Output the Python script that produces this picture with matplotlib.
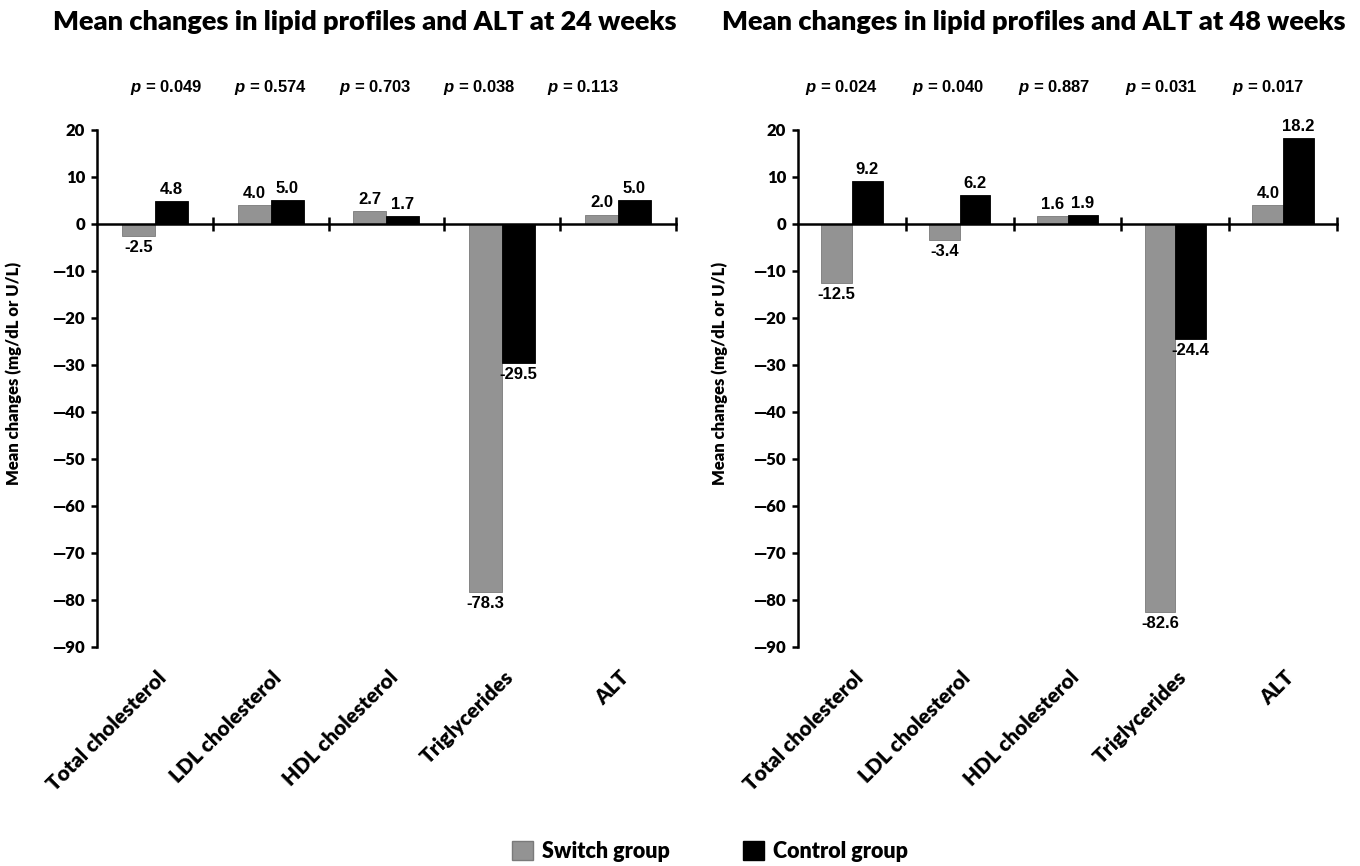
import matplotlib
matplotlib.use('Agg')
import matplotlib.pyplot as plt
from matplotlib.patches import Patch
import numpy as np

# data
categories = ['Total cholesterol', 'LDL cholesterol', 'HDL cholesterol', 'Triglycerides', 'ALT']
switch_24 = [-2.5, 4.0, 2.7, -78.3, 2.0]
control_24 = [4.8, 5.0, 1.7, -29.5, 5.0]
pvals_24 = ['0.049', '0.574', '0.703', '0.038', '0.113']
switch_48 = [-12.5, -3.4, 1.6, -82.6, 4.0]
control_48 = [9.2, 6.2, 1.9, -24.4, 18.2]
pvals_48 = ['0.024', '0.040', '0.887', '0.031', '0.017']
yticks = [20, 10, 0, -10, -20, -30, -40, -50, -60, -70, -80, -90]

GRAY = '#939393'
LABEL_FONT = 'Lato'
NUM_FONT = 'Liberation Sans'
W = 'heavy'

plt.rcParams['mathtext.fontset'] = 'custom'
plt.rcParams['mathtext.it'] = 'Liberation Sans:bold:italic'
plt.rcParams['mathtext.rm'] = 'Liberation Sans:bold'

fig = plt.figure(figsize=(13.6, 8.66), dpi=100)
ax1 = fig.add_axes([0.0713, 0.2529, 0.4257, 0.5970])
ax2 = fig.add_axes([0.5868, 0.2529, 0.3963, 0.5970])


def draw_panel(ax, switch, control, pvals, p_step, p_shift):
    x = np.arange(len(categories))
    w = 0.285
    b1 = ax.bar(x - w / 2, switch, w, color=GRAY, edgecolor='#7a7a7a', linewidth=0.6)
    b2 = ax.bar(x + w / 2, control, w, color='black', edgecolor='black', linewidth=0.6)

    # value labels
    for bars, vals in ((b1, switch), (b2, control)):
        for bar, v in zip(bars, vals):
            cx = bar.get_x() + bar.get_width() / 2
            if v >= 0:
                ax.annotate(f'{v:.1f}', (cx, v), xytext=(0, 3), textcoords='offset points',
                            ha='center', va='bottom', fontsize=12, fontweight='bold',
                            family=NUM_FONT)
            else:
                ax.annotate(f'{v:.1f}', (cx, v), xytext=(0, -3), textcoords='offset points',
                            ha='center', va='top', fontsize=12, fontweight='bold',
                            family=NUM_FONT)

    # p values above the plot (spread a bit differently from the categories)
    for i, p in enumerate(pvals):
        ax.text(i * p_step + p_shift, 1.083, r'$p$ = ' + p, transform=ax.get_xaxis_transform(),
                ha='center', va='center', fontsize=12, fontweight='bold', family=NUM_FONT)

    ax.set_xlim(-0.5, len(categories) - 0.5)
    ax.set_ylim(-90, 20)
    ax.set_yticks(yticks)
    ax.set_yticklabels([str(t).replace('-', '\u2014') for t in yticks],
                       fontsize=12, fontweight=W, family=LABEL_FONT)

    for s in ('top', 'right'):
        ax.spines[s].set_visible(False)
    ax.spines['left'].set_linewidth(1.8)
    ax.spines['bottom'].set_linewidth(1.8)
    ax.spines['bottom'].set_position(('data', 0))
    ax.set_xticks(np.arange(len(categories)) + 0.5)
    ax.set_xticklabels([])
    ax.tick_params(axis='x', direction='inout', length=10, width=1.8)
    ax.tick_params(axis='y', direction='out', length=4.5, width=1.8, pad=4)

    # category labels below the plot
    for i, c in enumerate(categories):
        ax.text(i + 0.01, -0.04, c, transform=ax.get_xaxis_transform(), rotation=45,
                ha='right', va='top', rotation_mode='anchor', fontsize=15,
                fontweight=W, family=LABEL_FONT)

    ax.set_ylabel('Mean changes (mg/dL or U/L)', fontsize=12, fontweight=W,
                  family=LABEL_FONT)
    ax.yaxis.set_label_coords(-0.13, 0.53)


draw_panel(ax1, switch_24, control_24, pvals_24, 0.9, 0.1)
draw_panel(ax2, switch_48, control_48, pvals_48, 0.99, -0.1)

fig.text(0.268, 0.975, 'Mean changes in lipid profiles and ALT at 24 weeks', ha='center',
         va='center', fontsize=19.5, fontweight=W, family=LABEL_FONT)
fig.text(0.760, 0.975, 'Mean changes in lipid profiles and ALT at 48 weeks', ha='center',
         va='center', fontsize=19.5, fontweight=W, family=LABEL_FONT)

handles = [Patch(facecolor=GRAY, edgecolor='#7a7a7a', label='Switch group'),
           Patch(facecolor='black', edgecolor='black', label='Control group')]
fig.legend(handles=handles, loc='center', bbox_to_anchor=(0.522, 0.017), ncol=2,
           frameon=False, prop={'family': LABEL_FONT, 'weight': W, 'size': 15.5},
           handlelength=1.0, handleheight=1.0, handletextpad=0.4, columnspacing=3.4)

fig.savefig('out.png', dpi=100)
